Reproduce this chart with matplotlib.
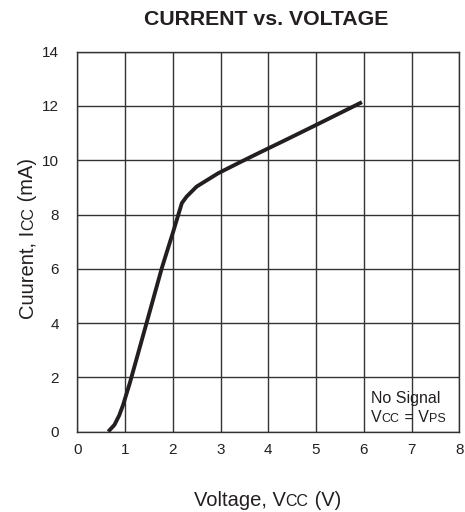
import matplotlib
matplotlib.use("Agg")
import matplotlib.pyplot as plt

plt.rcParams['font.family'] = ['Liberation Sans', 'DejaVu Sans']

# data
voltage = [0.65, 0.78, 0.88, 0.96, 1.10, 1.45, 1.77, 2.01, 2.19, 2.29, 2.50,
           2.95, 3.40, 3.85, 4.40, 5.00, 5.96]
current = [0.0, 0.25, 0.6, 0.98, 1.78, 3.99, 6.02, 7.37, 8.42, 8.66, 9.03,
           9.52, 9.92, 10.31, 10.78, 11.30, 12.14]
x_ticks = [0, 1, 2, 3, 4, 5, 6, 7, 8]
y_ticks = [0, 2, 4, 6, 8, 10, 12, 14]

fig = plt.figure(figsize=(4.65, 5.12), dpi=100)
ax = fig.add_axes([0.166, 0.157, 0.822, 0.742])

ax.plot(voltage, current, color='#231f20', lw=2.8, solid_capstyle='butt',
        solid_joinstyle='round', zorder=3)
ax.set_xlim(0, 8)
ax.set_ylim(0, 14)
ax.set_xticks(x_ticks)
ax.set_yticks(y_ticks)
ax.grid(True, color='#333333', lw=1.0)
ax.set_axisbelow(True)
for s in ax.spines.values():
    s.set_color('#333333')
    s.set_linewidth(1.0)
ax.tick_params(length=0, labelsize=11, colors='#231f20', pad=8)
ax.tick_params(axis='y', pad=13)

fig.text(0.572, 0.961, 'CURRENT vs. VOLTAGE', ha='center', va='center',
         fontsize=15.3, fontweight='bold', color='#231f20')

renderer = fig.canvas.get_renderer()


def rich(parts, x, y, rotation=0, ha='center', color='#231f20'):
    # place pieces of text with different sizes one after another
    widths = []
    for s, size in parts:
        t = fig.text(0, 0, s, fontsize=size)
        widths.append(t.get_window_extent(renderer).width)
        t.remove()
    total = sum(widths)
    W, H = fig.bbox.width, fig.bbox.height
    if rotation == 0:
        pos = x * W - (total / 2 if ha == 'center' else 0)
        for (s, size), w in zip(parts, widths):
            fig.text(pos / W, y, s, fontsize=size, va='baseline', color=color)
            pos += w
    else:
        pos = y * H - total / 2
        for (s, size), w in zip(parts, widths):
            fig.text(x, pos / H, s, fontsize=size, rotation=90, ha='left',
                     va='baseline', rotation_mode='anchor', color=color)
            pos += w


rich([('Voltage, V', 14.5), ('CC', 11.5), (' (V)', 14.5)], 0.575, 0.012)
rich([('Cuurent, I', 14.5), ('CC', 11.5), (' (mA)', 14.5)], 0.071, 0.534,
     rotation=90)

# note text inside the axes
fx = 0.166 + 0.822 * (6.15 / 8)
rich([('No Signal', 11.5)], fx, 0.157 + 0.742 * (1.04 / 14), ha='left')
rich([('V', 11.5), ('CC', 9), (' = V', 11.5), ('PS', 9)], fx,
     0.157 + 0.742 * (0.36 / 14), ha='left')

fig.savefig('out.png', dpi=100)
